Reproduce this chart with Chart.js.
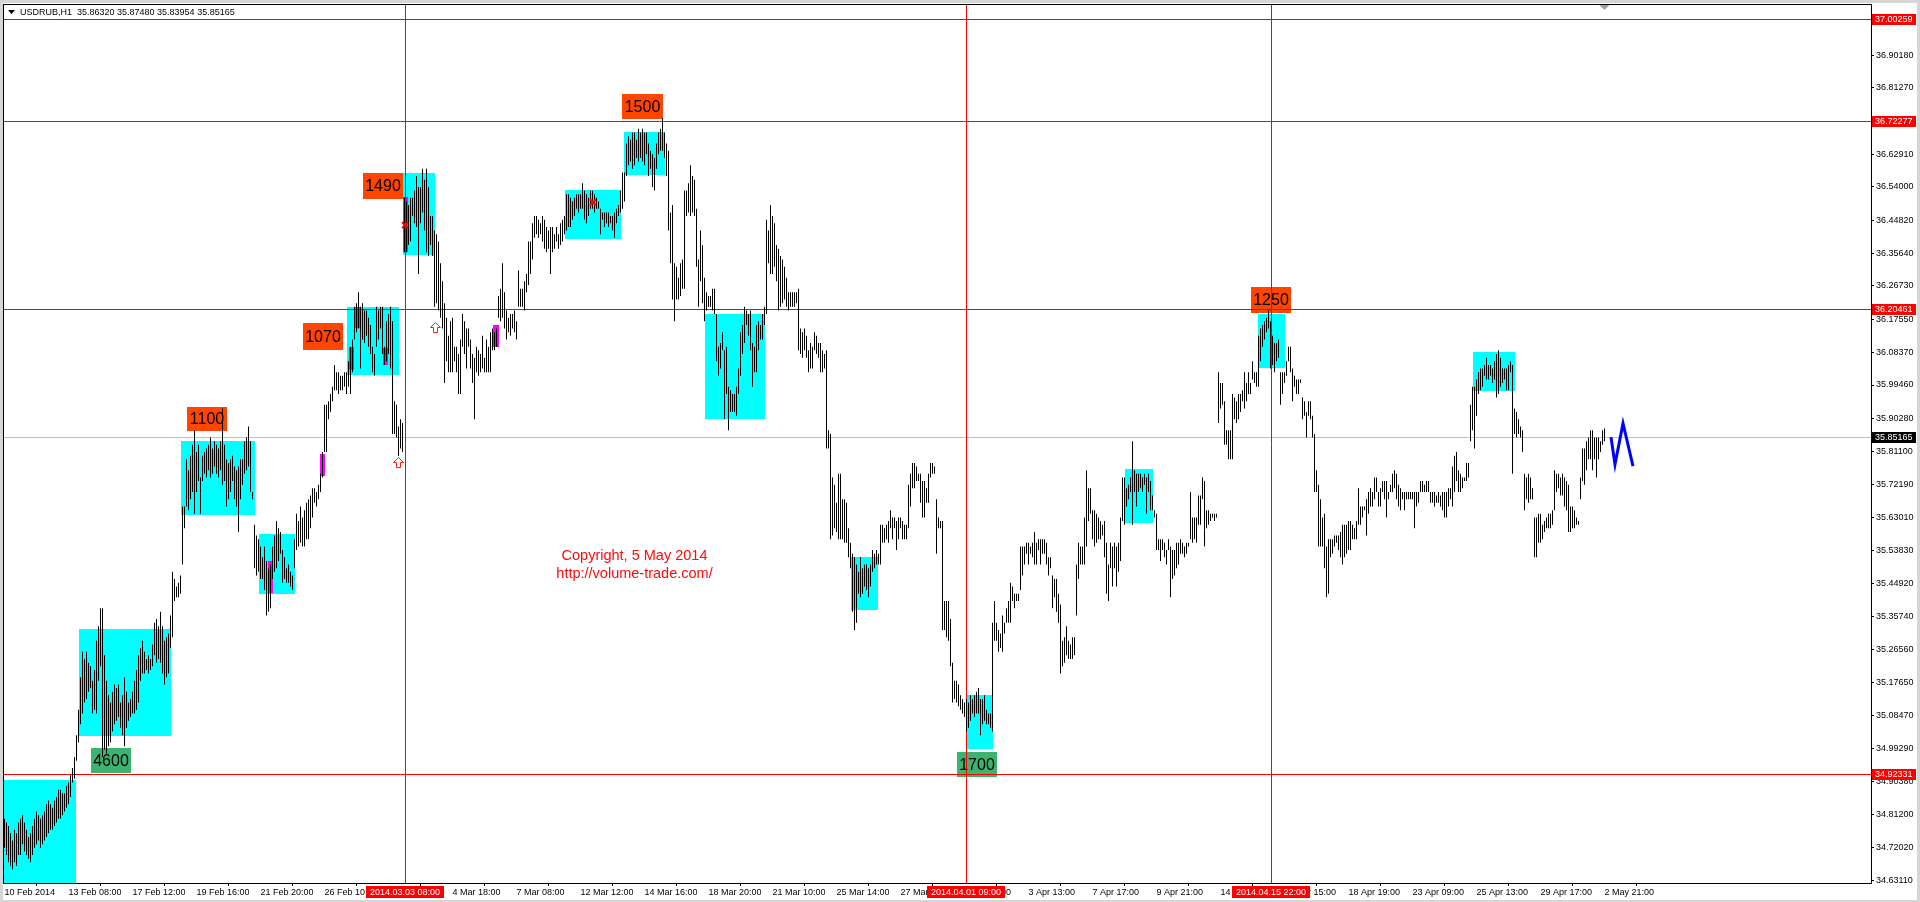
<!DOCTYPE html>
<html>
<head>
<meta charset="utf-8">
<title>USDRUB,H1</title>
<script src="https://cdn.jsdelivr.net/npm/chart.js@4.4.1/dist/chart.umd.min.js"></script>
<style>
  html, body { margin: 0; padding: 0; background: #fff; overflow: hidden; }
  #wrap { position: relative; width: 1920px; height: 902px; }
</style>
</head>
<body>
<div id="wrap"><canvas id="chart" width="1920" height="902" style="width:1920px;height:902px"></canvas></div>
<script>
// ---- header quote (open, high, low, close of the last bar) ----
const symbol = 'USDRUB,H1';
const lastQuote = [35.86320, 35.87480, 35.83954, 35.85165];

// ---- H1 bars, one entry per bar (10 Feb 2014 08:00 .. 2 May 2014 21:00) ----
const barHigh = [
  34.80,34.79,34.78,34.76,34.74,34.77,34.76,34.79,34.80,34.81, // 0
  34.79,34.77,34.75,34.76,34.78,34.80,34.82,34.81,34.80,34.81,
  34.82,34.84,34.85,34.84,34.83,34.85,34.86,34.88,34.88,34.87,
  34.87,34.89,34.90,34.92,34.94,34.97,35.03,35.10,35.19,35.26,
  35.24,35.26,35.23,35.22,35.18,35.21,35.29,35.33,35.38,35.38,
  35.25,35.18,35.14,35.12,35.15,35.17,35.16,35.17,35.12,35.14, // 50
  35.19,35.15,35.12,35.13,35.15,35.18,35.21,35.25,35.27,35.29,
  35.26,35.24,35.25,35.24,35.28,35.34,35.35,35.33,35.37,35.33,
  35.29,35.30,35.31,35.36,35.48,35.46,35.44,35.45,35.47,35.66,
  35.66,35.79,35.76,35.80,35.83,35.87,35.81,35.83,35.74,35.80,
  35.81,35.82,35.83,35.85,35.82,35.84,35.83,35.82,35.84,35.93, // 100
  35.83,35.79,35.78,35.79,35.80,35.77,35.76,35.77,35.79,35.79,
  35.84,35.85,35.88,35.84,35.70,35.61,35.58,35.57,35.55,35.52,
  35.55,35.51,35.49,35.50,35.55,35.58,35.62,35.60,35.59,35.54,
  35.52,35.49,35.50,35.48,35.47,35.57,35.64,35.62,35.66,35.63,
  35.65,35.67,35.68,35.69,35.71,35.71,35.70,35.72,35.75,35.81, // 150
  35.94,35.94,35.95,35.97,35.99,36.05,36.03,36.03,36.02,36.02,
  36.03,36.03,36.06,36.10,36.12,36.21,36.22,36.25,36.21,36.22,
  36.20,36.20,36.18,36.16,36.10,36.08,36.21,36.20,36.21,36.21,
  36.10,36.17,36.19,36.21,36.17,35.95,35.94,35.88,35.90,35.89,
  36.51,36.50,36.49,36.51,36.51,36.53,36.57,36.54,36.54,36.59, // 200
  36.56,36.59,36.54,36.46,36.46,36.42,36.41,36.39,36.33,36.28,
  36.22,36.18,36.13,36.17,36.18,36.10,36.10,36.08,36.12,36.19,
  36.17,36.15,36.15,36.12,36.08,36.07,36.10,36.09,36.08,36.13,
  36.07,36.12,36.10,36.14,36.15,36.14,36.15,36.24,36.26,36.33,
  36.25,36.20,36.18,36.19,36.19,36.20,36.17,36.31,36.26,36.26, // 250
  36.28,36.30,36.39,36.39,36.44,36.46,36.46,36.45,36.44,36.46,
  36.45,36.43,36.42,36.43,36.43,36.41,36.43,36.41,36.44,36.45,
  36.46,36.52,36.52,36.51,36.50,36.51,36.52,36.52,36.52,36.55,
  36.53,36.52,36.51,36.53,36.53,36.52,36.51,36.50,36.48,36.47,
  36.47,36.47,36.47,36.46,36.46,36.47,36.48,36.49,36.53,36.58, // 300
  36.58,36.66,36.68,36.67,36.69,36.69,36.67,36.70,36.69,36.70,
  36.69,36.69,36.66,36.64,36.63,36.62,36.66,36.69,36.70,36.73,
  36.69,36.66,36.64,36.47,36.49,36.33,36.32,36.29,36.33,36.34,
  36.53,36.53,36.55,36.60,36.57,36.56,36.48,36.34,36.42,36.38,
  36.29,36.25,36.24,36.24,36.26,36.26,36.19,36.10,36.11,36.14, // 350
  36.09,36.10,35.99,35.98,35.97,35.97,35.99,36.04,36.14,36.16,
  36.21,36.20,36.19,36.20,36.11,36.10,36.16,36.17,36.16,36.19,
  36.21,36.45,36.42,36.49,36.46,36.44,36.38,36.37,36.35,36.34,
  36.32,36.29,36.25,36.25,36.25,36.25,36.25,36.26,36.15,36.14,
  36.15,36.13,36.09,36.11,36.10,36.14,36.13,36.11,36.11,36.09, // 400
  36.08,36.09,35.87,35.86,35.74,35.72,35.67,35.75,35.75,35.68,
  35.68,35.67,35.60,35.56,35.53,35.52,35.50,35.48,35.52,35.49,
  35.50,35.50,35.49,35.50,35.54,35.53,35.54,35.53,35.61,35.61,
  35.60,35.61,35.62,35.65,35.63,35.63,35.62,35.63,35.63,35.62,
  35.61,35.61,35.72,35.75,35.78,35.78,35.77,35.75,35.75,35.73, // 450
  35.73,35.71,35.75,35.78,35.78,35.77,35.68,35.63,35.62,35.62,
  35.40,35.40,35.40,35.35,35.23,35.18,35.18,35.17,35.14,35.13,
  35.12,35.13,35.12,35.14,35.13,35.14,35.15,35.16,35.13,35.13,
  35.14,35.10,35.09,35.09,35.34,35.40,35.34,35.32,35.31,35.36,
  35.34,35.38,35.40,35.45,35.44,35.42,35.42,35.42,35.55,35.55, // 500
  35.55,35.56,35.56,35.55,35.56,35.59,35.56,35.57,35.57,35.57,
  35.57,35.56,35.52,35.52,35.47,35.46,35.46,35.42,35.39,35.29,
  35.30,35.33,35.29,35.28,35.30,35.30,35.50,35.56,35.55,35.55,
  35.63,35.76,35.71,35.71,35.65,35.65,35.64,35.63,35.62,35.61,
  35.62,35.56,35.50,35.56,35.55,35.56,35.55,35.56,35.63,35.74, // 550
  35.74,35.71,35.72,35.74,35.84,35.76,35.75,35.75,35.75,35.74,
  35.75,35.74,35.75,35.73,35.69,35.65,35.64,35.57,35.57,35.57,
  35.56,35.54,35.57,35.55,35.54,35.54,35.56,35.56,35.57,35.56,
  35.55,35.56,35.56,35.70,35.63,35.63,35.63,35.69,35.69,35.74,
  35.73,35.65,35.65,35.64,35.64,35.64,35.64,36.03,36.00,36.00, // 600
  35.95,35.87,35.87,35.87,35.97,35.96,35.95,35.97,35.97,35.98,
  36.03,36.00,36.03,36.00,36.06,36.03,36.03,36.13,36.15,36.16,
  36.17,36.18,36.20,36.17,36.13,36.11,36.11,36.12,36.03,36.03,
  36.03,36.06,36.10,36.10,36.04,36.02,36.01,36.01,36.01,35.96,
  35.95,35.92,35.95,35.95,35.91,35.86,35.76,35.72,35.68,35.63, // 650
  35.64,35.55,35.57,35.57,35.57,35.58,35.58,35.58,35.59,35.61,
  35.61,35.61,35.62,35.62,35.61,35.60,35.62,35.71,35.66,35.66,
  35.66,35.68,35.70,35.71,35.70,35.74,35.74,35.70,35.71,35.73,
  35.73,35.73,35.70,35.72,35.75,35.76,35.75,35.72,35.71,35.70,
  35.70,35.70,35.70,35.70,35.70,35.70,35.70,35.70,35.73,35.73, // 700
  35.72,35.73,35.73,35.70,35.70,35.70,35.69,35.70,35.69,35.70,
  35.70,35.70,35.71,35.71,35.77,35.80,35.81,35.76,35.75,35.74,
  35.74,35.78,35.78,35.94,35.99,35.99,36.01,36.03,36.04,36.04,
  36.05,36.07,36.05,36.05,36.04,36.06,36.08,36.09,36.07,36.04,
  36.04,36.04,36.05,36.06,36.05,35.93,35.92,35.90,35.88,35.87, // 750
  35.75,35.74,35.75,35.74,35.71,35.63,35.63,35.64,35.64,35.61,
  35.62,35.63,35.64,35.64,35.65,35.76,35.75,35.75,35.74,35.75,
  35.74,35.73,35.72,35.66,35.66,35.65,35.63,35.62,35.74,35.82,
  35.82,35.84,35.85,35.87,35.87,35.85,35.85,35.85,35.84,35.87,
  35.875                                                          // 800
];
const barLow = [
  34.72,34.70,34.68,34.67,34.66,34.68,34.67,34.70,34.70,34.73, // 0
  34.71,34.70,34.69,34.68,34.70,34.72,34.73,34.74,34.72,34.73,
  34.74,34.75,34.76,34.77,34.77,34.78,34.79,34.80,34.80,34.81,
  34.82,34.83,34.84,34.86,34.90,34.91,34.96,35.01,35.06,35.09,
  35.12,35.13,35.15,35.16,35.09,35.10,35.09,35.18,35.22,34.97,
  34.99,34.98,35.00,35.01,35.04,35.06,35.07,35.08,35.05,35.03, // 50
  35.00,35.05,35.07,35.08,35.09,35.09,35.10,35.12,35.18,35.20,
  35.20,35.21,35.20,35.21,35.22,35.25,35.23,35.24,35.23,35.20,
  35.17,35.19,35.20,35.27,35.30,35.40,35.41,35.41,35.42,35.50,
  35.60,35.66,35.65,35.68,35.70,35.64,35.70,35.73,35.64,35.73,
  35.75,35.74,35.76,35.74,35.75,35.77,35.75,35.74,35.76,35.72, // 100
  35.73,35.66,35.68,35.70,35.73,35.68,35.66,35.59,35.68,35.72,
  35.75,35.76,35.77,35.70,35.68,35.49,35.47,35.48,35.46,35.46,
  35.43,35.36,35.37,35.38,35.46,35.48,35.49,35.51,35.53,35.45,
  35.46,35.45,35.45,35.44,35.43,35.49,35.54,35.55,35.56,35.55,
  35.55,35.57,35.57,35.60,35.63,35.67,35.66,35.68,35.70,35.74, // 150
  35.81,35.81,35.90,35.92,35.95,35.98,35.98,35.97,35.98,35.98,
  35.99,35.97,35.99,35.97,36.03,36.12,36.14,36.15,36.04,36.12,
  36.11,36.13,36.10,36.08,36.03,36.02,36.10,36.12,36.15,36.08,
  36.05,36.06,36.08,36.04,35.86,35.86,35.85,35.80,35.82,35.81,
  36.36,36.36,36.38,36.39,36.46,36.44,36.43,36.30,36.44,36.47, // 200
  36.42,36.36,36.35,36.38,36.35,36.21,36.22,36.20,36.18,36.15,
  36.00,36.06,36.03,36.03,36.03,36.06,36.03,35.97,35.97,36.10,
  36.08,36.04,36.10,36.04,36.00,35.90,36.03,36.02,36.03,36.04,
  36.03,36.03,36.03,36.03,36.09,36.09,36.10,36.18,36.17,36.18,
  36.15,36.12,36.14,36.13,36.15,36.14,36.12,36.21,36.21,36.21, // 250
  36.20,36.25,36.27,36.30,36.34,36.40,36.41,36.40,36.41,36.39,
  36.37,36.36,36.37,36.30,36.36,36.37,36.39,36.37,36.38,36.39,
  36.41,36.42,36.43,36.43,36.45,36.46,36.48,36.47,36.48,36.48,
  36.45,36.44,36.46,36.48,36.48,36.47,36.48,36.48,36.41,36.45,
  36.43,36.44,36.43,36.44,36.42,36.40,36.44,36.46,36.47,36.48, // 300
  36.50,36.57,36.60,36.61,36.59,36.60,36.62,36.61,36.62,36.61,
  36.60,36.63,36.57,36.59,36.54,36.53,36.59,36.63,36.64,36.64,
  36.62,36.57,36.42,36.33,36.23,36.17,36.23,36.23,36.24,36.26,
  36.26,36.46,36.47,36.46,36.47,36.46,36.32,36.21,36.28,36.22,
  36.17,36.20,36.21,36.21,36.20,36.19,36.06,36.02,36.04,36.09, // 350
  35.90,35.97,35.87,35.92,35.92,35.92,35.91,35.97,36.02,36.08,
  36.11,36.16,36.13,36.09,35.99,36.03,36.03,36.09,36.12,36.12,
  36.16,36.19,36.33,36.30,36.30,36.32,36.28,36.20,36.21,36.22,
  36.23,36.21,36.20,36.21,36.21,36.21,36.22,36.09,36.08,36.07,
  36.09,36.07,36.03,36.04,36.04,36.09,36.08,36.07,36.03,36.03, // 400
  36.04,35.82,35.82,35.57,35.58,35.60,35.59,35.57,35.57,35.57,
  35.56,35.56,35.52,35.49,35.37,35.32,35.34,35.42,35.41,35.42,
  35.44,35.43,35.41,35.44,35.48,35.49,35.50,35.50,35.50,35.56,
  35.56,35.57,35.56,35.60,35.57,35.60,35.54,35.57,35.60,35.57,
  35.57,35.57,35.60,35.66,35.71,35.71,35.73,35.73,35.67,35.63, // 450
  35.63,35.67,35.67,35.74,35.75,35.75,35.53,35.60,35.60,35.32,
  35.32,35.30,35.29,35.22,35.12,35.13,35.12,35.11,35.10,35.09,
  35.08,35.04,35.05,35.07,35.09,35.08,35.09,35.09,35.03,35.06,
  35.07,35.06,35.06,35.05,35.04,35.29,35.29,35.26,35.27,35.26,
  35.31,35.34,35.34,35.34,35.40,35.38,35.40,35.40,35.43,35.47, // 500
  35.50,35.53,35.50,35.53,35.52,35.50,35.50,35.54,35.50,35.53,
  35.53,35.50,35.47,35.49,35.38,35.41,35.37,35.34,35.20,35.22,
  35.23,35.25,35.24,35.24,35.24,35.25,35.36,35.46,35.50,35.50,
  35.50,35.55,35.62,35.64,35.57,35.55,35.56,35.57,35.57,35.58,
  35.52,35.42,35.40,35.49,35.44,35.49,35.44,35.48,35.51,35.62, // 550
  35.61,35.66,35.68,35.70,35.61,35.70,35.66,35.70,35.71,35.70,
  35.72,35.64,35.70,35.65,35.65,35.63,35.54,35.54,35.51,35.54,
  35.52,35.50,35.54,35.41,35.46,35.47,35.49,35.50,35.53,35.53,
  35.52,35.53,35.55,35.57,35.56,35.57,35.56,35.61,35.61,35.68,
  35.55,35.60,35.61,35.62,35.63,35.62,35.63,35.89,35.93,35.94, // 600
  35.83,35.83,35.79,35.79,35.79,35.90,35.89,35.90,35.92,35.95,
  35.93,35.95,35.97,35.97,36.01,36.00,35.99,35.99,36.06,36.10,
  36.12,36.14,36.15,36.04,36.05,36.03,36.06,36.07,35.94,35.97,
  36.00,36.02,36.06,36.03,35.95,35.99,35.97,35.97,36.00,35.90,
  35.91,35.85,35.91,35.90,35.85,35.70,35.70,35.55,35.55,35.55, // 650
  35.49,35.41,35.42,35.52,35.53,35.55,35.56,35.54,35.52,35.50,
  35.52,35.53,35.54,35.54,35.57,35.57,35.57,35.61,35.61,35.63,
  35.65,35.58,35.64,35.66,35.66,35.68,35.70,35.66,35.66,35.70,
  35.68,35.63,35.68,35.70,35.70,35.71,35.68,35.66,35.65,35.68,
  35.65,35.68,35.68,35.68,35.68,35.60,35.66,35.67,35.70,35.70, // 700
  35.70,35.70,35.70,35.67,35.67,35.66,35.67,35.67,35.66,35.65,
  35.63,35.63,35.66,35.68,35.66,35.70,35.73,35.70,35.70,35.71,
  35.73,35.73,35.74,35.84,35.87,35.82,35.91,35.97,35.98,35.99,
  36.02,36.01,36.01,36.02,36.00,36.01,35.96,35.97,35.99,36.00,
  36.01,35.98,35.98,36.03,35.75,35.86,35.85,35.86,35.85,35.81, // 750
  35.65,35.68,35.67,35.68,35.68,35.52,35.52,35.56,35.56,35.57,
  35.59,35.60,35.60,35.60,35.61,35.65,35.70,35.71,35.69,35.69,
  35.66,35.65,35.59,35.59,35.60,35.60,35.61,35.61,35.68,35.73,
  35.72,35.76,35.79,35.79,35.76,35.79,35.74,35.79,35.81,35.83,
  35.84                                                           // 800
];

// ---- axes ----
const priceTicks = [36.90180, 36.81270, 36.62910, 36.54000, 36.44820, 36.35640, 36.26730,
  36.17550, 36.08370, 35.99460, 35.90280, 35.81100, 35.72190, 35.63010, 35.53830, 35.44920,
  35.35740, 35.26560, 35.17650, 35.08470, 34.99290, 34.90380, 34.81200, 34.72020, 34.63110];
const timeTickBars = [0, 32, 64, 96, 128, 160, 192, 224, 256, 288, 320, 352, 384,
  416, 448, 480, 512, 544, 576, 608, 640, 672, 704, 736, 768, 800];
const timeTickLabels = ['10 Feb 2014', '13 Feb 08:00', '17 Feb 12:00', '19 Feb 16:00', '21 Feb 20:00',
  '26 Feb 10:00', '28 Feb 14:00', '4 Mar 18:00', '7 Mar 08:00', '12 Mar 12:00', '14 Mar 16:00',
  '18 Mar 20:00', '21 Mar 10:00', '25 Mar 14:00', '27 Mar 18:00', '1 Apr 08:00', '3 Apr 13:00',
  '7 Apr 17:00', '9 Apr 21:00', '14 Apr 11:00', '16 Apr 15:00', '18 Apr 19:00', '23 Apr 09:00',
  '25 Apr 13:00', '29 Apr 17:00', '2 May 21:00'];
const priceMin = 34.6231, priceMax = 37.0439;
const barMin = -0.75, barMax = 933.25;

// ---- horizontal & vertical marker lines ----
const levelPrices = [37.00259, 36.72277, 36.20461, 34.92331];
const bidPrice = 35.85165;
const markerBars = [200, 481, 633];
const markerTimes = ['2014.03.03 08:00', '2014.04.01 09:00', '2014.04.15 22:00'];

// ---- cyan volume zones: bar range and price range ----
const zoneFrom   = [-1.5, 37.25, 88.25, 127.25, 171.25, 199.25, 280.25, 309.75, 350.25, 423.25, 480.75, 560.25, 626.75, 734.25];
const zoneTo     = [35.75, 83.25, 125.25, 145.25, 197.25, 215.25, 308.25, 330.25, 380.25, 436.75, 494.25, 574.25, 640.25, 755.25];
const zoneTop    = [34.908, 35.324, 35.840, 35.583, 36.209, 36.578, 36.531, 36.691, 36.190, 35.520, 35.142, 35.762, 36.190, 36.085];
const zoneBottom = [34.621, 35.027, 35.636, 35.418, 36.021, 36.352, 36.396, 36.573, 35.900, 35.374, 34.993, 35.614, 36.041, 35.977];

// ---- magenta highlighted bars ----
const hiliteFrom   = [131.75, 157.75, 172.25, 175.25, 189.25, 199.25, 244.25];
const hiliteTo     = [134.25, 160.25, 174.75, 177.75, 191.75, 201.75, 247.25];
const hiliteTop    = [35.509, 35.804, 36.099, 36.209, 36.096, 36.512, 36.159];
const hiliteBottom = [35.421, 35.743, 36.035, 36.151, 36.049, 36.360, 36.099];

// ---- volume tags ----
const tagText   = ['4600', '1100', '1070', '1490', '1500', '1700', '1250'];
const tagBuy    = [true, false, false, false, false, true, false];
const tagFrom   = [43.25, 91.25, 149.25, 179.25, 308.75, 476.25, 623.25];
const tagTo     = [63.25, 111.25, 169.25, 199.25, 329.25, 496.25, 643.25];
const tagTop    = [34.996, 35.933, 36.165, 36.578, 36.796, 34.985, 36.264];
const tagBottom = [34.925, 35.867, 36.090, 36.507, 36.727, 34.916, 36.192];

// ---- arrows, crosses, forecast wave ----
const arrowBars = [196.75, 215.25];
const arrowPrices = [35.795, 36.167];
const crossBars = [200.25, 294.25];
const crossPrices = [36.435, 36.498];
const waveBars = [803.25, 805.25, 809.25, 814.25];
const wavePrices = [35.851, 35.776, 35.889, 35.771];

const copyrightLines = ['Copyright, 5 May 2014', 'http://volume-trade.com/'];
const copyrightBar = 315;
const copyrightPrices = [35.525, 35.473];

const FONT = '"Liberation Sans", Arial, sans-serif';
Chart.defaults.font.family = FONT;

const mt4Plugin = {
  id: 'mt4',
  beforeDatasetsDraw(chart) {
    const { ctx, chartArea: a, scales: { x, y } } = chart;
    const X = v => x.getPixelForValue(v), Y = v => y.getPixelForValue(v);
    ctx.save();
    ctx.beginPath();
    ctx.rect(a.left, a.top, a.right - a.left, a.bottom - a.top);
    ctx.clip();

    ctx.fillStyle = '#00ffff';
    zoneFrom.forEach((f, k) => {
      const x0 = Math.round(X(f)), x1 = Math.round(X(zoneTo[k]));
      const y0 = Math.round(Y(zoneTop[k])), y1 = Math.round(Y(zoneBottom[k]));
      ctx.fillRect(x0, y0, x1 - x0, y1 - y0);
    });

    ctx.fillStyle = '#ff00ff';
    hiliteFrom.forEach((f, k) => {
      const x0 = Math.round(X(f)), x1 = Math.round(X(hiliteTo[k]));
      const y0 = Math.round(Y(hiliteTop[k])), y1 = Math.round(Y(hiliteBottom[k]));
      ctx.fillRect(x0, y0, x1 - x0, y1 - y0);
    });

    ctx.font = '16px ' + FONT;
    ctx.textAlign = 'center';
    ctx.textBaseline = 'middle';
    tagText.forEach((t, k) => {
      const x0 = Math.round(X(tagFrom[k])), x1 = Math.round(X(tagTo[k]));
      const y0 = Math.round(Y(tagTop[k])), y1 = Math.round(Y(tagBottom[k]));
      ctx.fillStyle = tagBuy[k] ? '#3cb371' : '#ff4500';
      ctx.fillRect(x0, y0, x1 - x0, y1 - y0);
      ctx.fillStyle = '#000';
      ctx.fillText(t, (x0 + x1) / 2, (y0 + y1) / 2 + 1);
    });

    ctx.font = '14.5px ' + FONT;
    ctx.fillStyle = '#ff0a0a';
    copyrightLines.forEach((t, k) => ctx.fillText(t, X(copyrightBar), Y(copyrightPrices[k])));

    ctx.lineWidth = 1;
    ctx.strokeStyle = '#c0c0c0';
    let yy = Math.round(Y(bidPrice)) + 0.5;
    ctx.beginPath(); ctx.moveTo(a.left, yy); ctx.lineTo(a.right, yy); ctx.stroke();
    ctx.strokeStyle = '#ff0000';
    levelPrices.forEach(p => {
      const yl = Math.round(Y(p)) + 0.5;
      ctx.beginPath(); ctx.moveTo(a.left, yl); ctx.lineTo(a.right, yl); ctx.stroke();
    });
    markerBars.forEach(b => {
      const xl = Math.round(X(b)) + 0.5;
      ctx.beginPath(); ctx.moveTo(xl, a.top); ctx.lineTo(xl, a.bottom); ctx.stroke();
    });
    ctx.restore();
  },
  afterDatasetsDraw(chart) {
    const { ctx, scales: { x, y } } = chart;
    ctx.save();
    arrowBars.forEach((b, k) => {
      const ax = Math.round(x.getPixelForValue(b)) + 0.5, ay = Math.round(y.getPixelForValue(arrowPrices[k])) + 0.5;
      ctx.beginPath();
      ctx.moveTo(ax, ay);
      ctx.lineTo(ax + 5, ay + 5); ctx.lineTo(ax + 2, ay + 5); ctx.lineTo(ax + 2, ay + 10);
      ctx.lineTo(ax - 2, ay + 10); ctx.lineTo(ax - 2, ay + 5); ctx.lineTo(ax - 5, ay + 5);
      ctx.closePath();
      ctx.fillStyle = '#fff'; ctx.fill();
      ctx.strokeStyle = '#ff2200'; ctx.lineWidth = 1; ctx.stroke();
    });
    ctx.strokeStyle = '#ff0000';
    ctx.lineWidth = 2;
    crossBars.forEach((b, k) => {
      const cx = x.getPixelForValue(b), cy = y.getPixelForValue(crossPrices[k]);
      ctx.beginPath();
      ctx.moveTo(cx - 3, cy - 3); ctx.lineTo(cx + 3, cy + 3);
      ctx.moveTo(cx + 3, cy - 3); ctx.lineTo(cx - 3, cy + 3);
      ctx.stroke();
    });
    ctx.restore();
  },
  afterDraw(chart) {
    const { ctx, chartArea: a, scales: { x, y }, width, height } = chart;
    ctx.save();
    // window frame
    ctx.fillStyle = '#d6d6d6';
    ctx.fillRect(0, 0, width, 3);
    ctx.fillRect(0, 0, 3, height);
    ctx.fillRect(width - 3, 0, 3, height);
    ctx.fillRect(0, height - 2, width, 2);
    // chart frame
    ctx.strokeStyle = '#000';
    ctx.lineWidth = 1;
    ctx.strokeRect(a.left + 0.5, a.top + 0.5, a.right - a.left, a.bottom - a.top);

    // header
    ctx.fillStyle = '#000';
    ctx.beginPath(); ctx.moveTo(8, 10); ctx.lineTo(15, 10); ctx.lineTo(11.5, 14); ctx.closePath(); ctx.fill();
    ctx.font = '9px ' + FONT;
    ctx.textAlign = 'left';
    ctx.textBaseline = 'middle';
    ctx.fillText(symbol + '  ' + lastQuote.map(v => v.toFixed(5)).join(' '), 20, 13);

    // shift marker
    const sx = x.getPixelForValue(800);
    ctx.fillStyle = '#a0a0a0';
    ctx.beginPath(); ctx.moveTo(sx - 5, a.top + 1); ctx.lineTo(sx + 5, a.top + 1); ctx.lineTo(sx, a.top + 6); ctx.closePath(); ctx.fill();

    // price labels on the right axis
    const labelBox = (p, bg) => {
      const yc = Math.round(y.getPixelForValue(p));
      ctx.fillStyle = bg;
      ctx.fillRect(a.right + 1, yc - 5, 44, 11);
      ctx.fillStyle = '#fff';
      ctx.fillText(p.toFixed(5), a.right + 4, yc + 0.5);
    };
    levelPrices.forEach(p => labelBox(p, '#ff0000'));
    labelBox(bidPrice, '#000');

    // time labels of the vertical lines
    ctx.textAlign = 'center';
    markerBars.forEach((b, k) => {
      const xc = Math.round(x.getPixelForValue(b));
      ctx.fillStyle = '#ff0000';
      ctx.fillRect(xc - 39, a.bottom + 3, 78, 12);
      ctx.fillStyle = '#fff';
      ctx.fillText(markerTimes[k], xc, a.bottom + 9.5);
    });
    ctx.restore();
  }
};

const ctx = document.getElementById('chart').getContext('2d');
new Chart(ctx, {
  type: 'bar',
  data: {
    datasets: [
      {
        type: 'line',
        data: waveBars.map((b, k) => ({ x: b, y: wavePrices[k] })),
        borderColor: '#0000ff',
        borderWidth: 3,
        pointRadius: 0,
        tension: 0,
        order: 1
      },
      {
        type: 'bar',
        data: barHigh.map((h, i) => ({ x: i, y: [barLow[i], h] })),
        backgroundColor: '#000',
        borderWidth: 0,
        barThickness: 1,
        inflateAmount: 0,
        order: 2
      }
    ]
  },
  options: {
    responsive: false,
    animation: false,
    devicePixelRatio: 1,
    events: [],
    layout: { padding: { left: 3, top: 4, right: 0, bottom: 0 } },
    plugins: { legend: { display: false }, tooltip: { enabled: false } },
    scales: {
      x: {
        type: 'linear',
        position: 'bottom',
        min: barMin,
        max: barMax,
        offset: false,
        afterBuildTicks: s => { s.ticks = timeTickBars.map(v => ({ value: v })); },
        afterFit: s => { s.height = 19; s.paddingLeft = 0; s.paddingRight = 0; },
        grid: { display: true, drawOnChartArea: false, tickLength: 3, color: '#000' },
        border: { display: false },
        ticks: {
          autoSkip: false, maxRotation: 0, minRotation: 0, align: 'start', padding: 1,
          color: '#000', font: { size: 9 },
          callback: v => timeTickLabels[timeTickBars.indexOf(v)]
        }
      },
      y: {
        type: 'linear',
        position: 'right',
        min: priceMin,
        max: priceMax,
        beginAtZero: false,
        afterBuildTicks: s => { s.ticks = priceTicks.map(v => ({ value: v })); },
        afterFit: s => { s.width = 49; s.paddingTop = 0; s.paddingBottom = 0; },
        grid: { display: true, drawOnChartArea: false, tickLength: 3, color: '#000' },
        border: { display: false },
        ticks: {
          autoSkip: false, padding: 2, color: '#000', font: { size: 9 },
          callback: v => v.toFixed(5)
        }
      }
    }
  },
  plugins: [mt4Plugin]
});
</script>
</body>
</html>
